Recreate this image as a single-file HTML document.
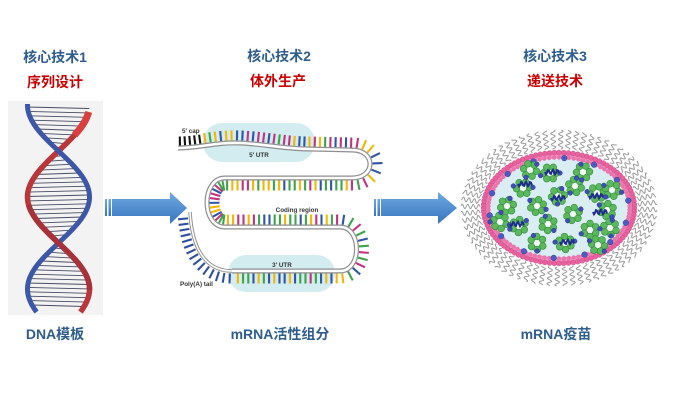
<!DOCTYPE html>
<html><head><meta charset="utf-8">
<style>html,body{margin:0;padding:0;background:#fff;width:675px;height:417px;overflow:hidden}</style>
</head><body>
<svg id="s" width="675" height="417" viewBox="0 0 675 417" xmlns="http://www.w3.org/2000/svg">
<defs>
<linearGradient id="ag" x1="0" y1="0" x2="0" y2="1"><stop offset="0" stop-color="#6fa9e0"/><stop offset="1" stop-color="#3874c0"/></linearGradient>
</defs>
<rect width="675" height="417" fill="#fff"/>
<g font-family="'Liberation Sans','Noto Sans CJK SC',sans-serif" font-weight="bold" font-size="14" text-anchor="middle">
<text x="55" y="62" fill="#2f5d8c">核心技术1</text>
<text x="55" y="87" fill="#c80000">序列设计</text>
<text x="55" y="339" fill="#2f5d8c">DNA模板</text>
<text x="279" y="61" fill="#2f5d8c">核心技术2</text>
<text x="278" y="86" fill="#c80000">体外生产</text>
<text x="280" y="339" fill="#2f5d8c">mRNA活性组分</text>
<text x="555" y="61" fill="#2f5d8c">核心技术3</text>
<text x="555" y="86" fill="#c80000">递送技术</text>
<text x="556" y="339" fill="#2f5d8c">mRNA疫苗</text>
</g>
<rect x="8" y="101" width="95" height="214" fill="#f3f3f3"/>
<g id="dna"></g>
<!-- arrows -->
<g fill="url(#ag)">
<rect x="105" y="199" width="2" height="17"/>
<rect x="108.5" y="199" width="2.5" height="17"/>
<path d="M112,199 L170,199 L170,192 L187,208 L170,224 L170,216 L112,216 Z"/>
<rect x="374" y="199" width="2" height="17"/>
<rect x="377.5" y="199" width="2.5" height="17"/>
<path d="M381,199 L438,199 L438,192 L457,208 L438,224 L438,216 L381,216 Z"/>
</g>
<!-- mRNA -->
<g id="mrna">
<rect x="203" y="123" width="112" height="39" rx="19" fill="#d3ecef"/>
<rect x="228" y="255" width="107" height="37" rx="18" fill="#d3ecef"/>
<g id="bars"></g>
<path id="mp" d="M178,148 C200,148 215,142 240,143 C265,144 285,149 310,149 L352,150 C376,150 376,178 352,178 L225,178 C201,178 201,227 225,227 L340,227 C362,227 362,271 340,271 L232,271" fill="none" stroke="#8e8e8e" stroke-width="5"/>
<path id="tp" d="M232,271 C205,271 192,248 190,212" fill="none" stroke="#8e8e8e" stroke-width="3.5"/>
<path d="M178,148 C200,148 215,142 240,143 C265,144 285,149 310,149 L352,150 C376,150 376,178 352,178 L225,178 C201,178 201,227 225,227 L340,227 C362,227 362,271 340,271 L232,271" fill="none" stroke="#fff" stroke-width="2.6"/>
<path d="M232,271 C205,271 192,248 190,212" fill="none" stroke="#fff" stroke-width="1.6"/>
<g font-family="'Liberation Sans',sans-serif" font-weight="bold" font-size="6.3" fill="#333">
<text x="182" y="133">5' cap</text>
<text x="259" y="157" text-anchor="middle">5' UTR</text>
<text x="297" y="212" text-anchor="middle">Coding region</text>
<text x="282" y="267" text-anchor="middle">3' UTR</text>
<text x="180" y="286">Poly(A) tail</text>
</g>
</g>
<g id="lnp"></g>
</svg>
<script>
(function(){
var NS="http://www.w3.org/2000/svg";
function el(tag,a,p){var e=document.createElementNS(NS,tag);for(var k in a)e.setAttribute(k,a[k]);p.appendChild(e);return e;}
/* DNA */
var dna=document.getElementById('dna');
function bx(y){return 58.5+31*Math.sin(Math.PI*(y-151)/92);}
function rx(y){return 58.5-31*Math.sin(Math.PI*(y-151)/92);}
for(var y=107;y<=308;y+=4.4){
  var x1=bx(y),x2=rx(y+1.5);
  if(Math.abs(x1-x2)<7)continue;
  el('line',{x1:x1,y1:y,x2:x2,y2:y+1.5,stroke:'#474c62','stroke-width':0.9},dna);
}
function strand(f,y0,y1,col,w){
  var pts=[];for(var y=y0;y<=y1;y+=1)pts.push(f(y).toFixed(2)+','+y);
  el('polyline',{points:pts.join(' '),fill:'none',stroke:col,'stroke-width':w,'stroke-linecap':'butt'},dna);
}
strand(rx,112,312,'#b9363b',5.5);
strand(rx,112,135,'#d8403f',7);
strand(bx,104,312,'#3d56a6',5);
strand(rx,205,290,'#a8323a',5.5);
/* mRNA bars */
var bars=document.getElementById('bars');
var cols=['#c2337f','#3fa34d','#f2b705','#2f55a4'];
var seed=7;function rnd(){seed=(seed*1103515245+12345)%2147483648;return seed/2147483648;}
function doBars(id,tail){
  var p=document.getElementById(id),L=p.getTotalLength();
  for(var s=2;s<L-1;s+=5.2){
    var a=p.getPointAtLength(Math.max(0,s-0.6)),b=p.getPointAtLength(Math.min(L,s+0.6)),c=p.getPointAtLength(s);
    var tx=b.x-a.x,ty=b.y-a.y,n=Math.hypot(tx,ty);tx/=n;ty/=n;
    var nx=ty,ny=-tx;
    var col,len=12.5;
    if(tail)col='#2d4f9e';else if(s<24){col='#111';len=11.5;}else col=cols[Math.floor(rnd()*4)];
    el('line',{x1:c.x+nx*2.5,y1:c.y+ny*2.5,x2:c.x+nx*len,y2:c.y+ny*len,stroke:col,'stroke-width':2.1},bars);
  }
}
doBars('mp',false);doBars('tp',true);
/* LNP */
var g=document.getElementById('lnp');var cx=559,cy=208;
var N=72;
for(var i=0;i<N;i++){
  var t=2*Math.PI*i/N+0.02;
  var bxp=cx+79*Math.cos(t),byp=cy+59*Math.sin(t);
  var nx=Math.cos(t)/79,ny=Math.sin(t)/59,nn=Math.hypot(nx,ny);nx/=nn;ny/=nn;
  var px=-ny,py=nx,pts=[];
  for(var k=0;k<=19;k+=0.5){var o=2.2*Math.sin(k*2*Math.PI/5.5+i*0.7);pts.push((bxp+nx*k+px*o).toFixed(1)+','+(byp+ny*k+py*o).toFixed(1));}
  el('polyline',{points:pts.join(' '),fill:'none',stroke:'#9a9a9a','stroke-width':1},g);
}
el('ellipse',{cx:cx,cy:cy,rx:72,ry:52,fill:'#d9edf3'},g);
el('ellipse',{cx:cx,cy:cy,rx:73,ry:53,fill:'none',stroke:'#ef8dbd','stroke-width':7},g);
for(var i=0;i<100;i++){var t=2*Math.PI*i/100;el('circle',{cx:cx+75.5*Math.cos(t),cy:cy+55.5*Math.sin(t),r:2.5,fill:'#e9629f',stroke:'#c2447f','stroke-width':0.4},g);}
for(var i=0;i<90;i++){var t=2*Math.PI*(i+0.5)/90;el('circle',{cx:cx+70.5*Math.cos(t),cy:cy+50.5*Math.sin(t),r:2.1,fill:'#ea75ae'},g);}
for(var i=0;i<14;i++){var t=2*Math.PI*i/14+0.3;el('circle',{cx:cx+70*Math.cos(t),cy:cy+50*Math.sin(t),r:2.8,fill:'#4b5cc4',stroke:'#2d3a90','stroke-width':0.5},g);}
var cl=[[550,173],[583,172],[523,188],[558,196],[597,193],[507,206],[537,206],[573,214],[607,210],[519,226],[548,224],[590,230],[537,243],[565,243],[610,228],[500,222],[575,186],[612,190],[530,170],[598,245]];
cl.forEach(function(c,j){
  for(var k=0;k<6;k++){var t=Math.PI*k/3+j;el('circle',{cx:c[0]+6.5*Math.cos(t),cy:c[1]+6.5*Math.sin(t),r:3.4,fill:'#5cb85c',stroke:'#2f8a3a','stroke-width':0.6},g);}
  el('circle',{cx:c[0],cy:c[1],r:3,fill:'#f4fbf4'},g);
});
cl.forEach(function(c,j){
  for(var k=0;k<2;k++){var t=j*1.7+k*2.8;el('circle',{cx:c[0]+10*Math.cos(t),cy:c[1]+8*Math.sin(t),r:2.3,fill:'#3e4fb8',stroke:'#25318a','stroke-width':0.5},g);}
});
var sq=[[552,172],[525,184],[558,198],[596,196],[517,224],[567,242],[600,212]];
sq.forEach(function(c){
  var pts=[];for(var k=0;k<=14;k++){pts.push((c[0]-7+k).toFixed(1)+','+(c[1]+2.2*Math.sin(k*2*Math.PI/4.5)).toFixed(1));}
  el('polyline',{points:pts.join(' '),fill:'none',stroke:'#1f2d8c','stroke-width':2},g);
});
})();
</script>
</body></html>
